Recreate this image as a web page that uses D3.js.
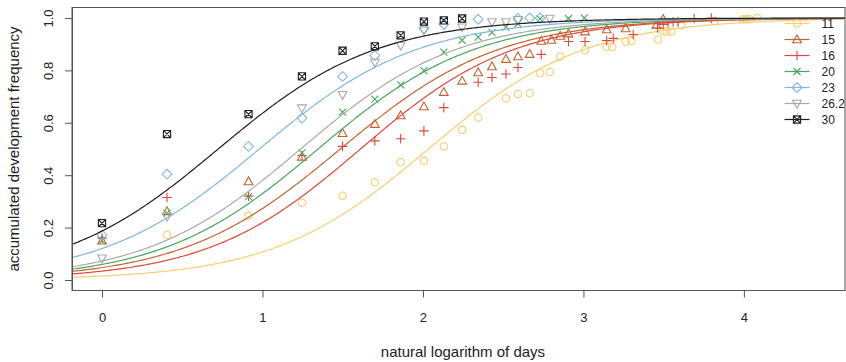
<!DOCTYPE html>
<html>
<head>
<meta charset="utf-8">
<script src="https://cdn.jsdelivr.net/npm/d3@7"></script>
<style>
  html, body { margin: 0; padding: 0; background: #fff; }
  svg { display: block; font-family: "Liberation Sans", Arial, Helvetica, sans-serif; }
</style>
</head>
<body>
<svg id="chart" width="846" height="362"></svg>
<script>
// Temperature groups (°C) shown in the legend
const groups = ["11", "15", "16", "20", "23", "26.2", "30"];
const colors = ["#F5CF73", "#C2632E", "#E0473C", "#46A85B", "#80B8DD", "#A9A9A9", "#1E1E1E"];
const shapes = ["circle", "triangleUp", "plus", "cross", "diamond", "triangleDown", "squareX"];

// Fitted logistic model: logit(p) = intercept + slope * ln(days)
const intercepts = [-4.17, -3.00, -3.35, -2.76, -1.99, -2.55, -1.47];
const slopes = [2.05, 2.02, 2.08, 2.05, 2.03, 2.06, 2.03];

// Observed accumulated development frequency, [ln(days), frequency]
const obs11 = [[0.405,0.172],[0.913,0.246],[1.246,0.295],[1.499,0.322],[1.70,0.373],[1.861,0.45],[2.006,0.455],[2.13,0.51],[2.244,0.573],[2.344,0.62],[2.517,0.694],[2.592,0.71],[2.665,0.713],[2.73,0.79],[2.79,0.794],[2.855,0.853],[3.01,0.877],[3.145,0.889],[3.18,0.889],[3.263,0.909],[3.30,0.912],[3.466,0.918],[3.497,0.948],[3.518,0.948],[3.549,0.948],[3.61,0.972],[3.818,0.988],[3.994,0.995],[4.014,0.995],[4.035,0.995],[4.083,1.0]];
const obs15 = [[0,0.15],[0.405,0.262],[0.913,0.376],[1.246,0.47],[1.499,0.56],[1.70,0.595],[1.861,0.628],[2.006,0.662],[2.13,0.717],[2.244,0.76],[2.344,0.792],[2.43,0.815],[2.517,0.843],[2.592,0.853],[2.665,0.862],[2.737,0.912],[2.80,0.916],[2.855,0.931],[2.907,0.94],[3.01,0.948],[3.145,0.956],[3.263,0.96],[3.455,0.973],[3.497,0.995]];
const obs16 = [[0,0.16],[0.405,0.315],[0.913,0.32],[1.246,0.475],[1.499,0.51],[1.70,0.531],[1.861,0.539],[2.006,0.569],[2.13,0.658],[2.344,0.755],[2.43,0.773],[2.517,0.786],[2.592,0.811],[2.737,0.861],[2.907,0.91],[3.01,0.91],[3.145,0.914],[3.186,0.922],[3.31,0.937],[3.462,0.962],[3.497,0.975],[3.528,0.982],[3.559,0.985],[3.59,0.986],[3.69,0.998],[3.797,1.0]];
const obs20 = [[0,0.15],[0.405,0.255],[0.913,0.318],[1.246,0.485],[1.499,0.641],[1.70,0.69],[1.861,0.745],[2.006,0.799],[2.13,0.87],[2.244,0.915],[2.344,0.927],[2.43,0.945],[2.517,0.965],[2.592,0.978],[2.73,0.997],[2.907,0.998],[3.006,1.0]];
const obs23 = [[0,0.172],[0.405,0.404],[0.913,0.51],[1.246,0.618],[1.499,0.777],[1.70,0.857],[2.006,0.96],[2.13,0.976],[2.344,0.995],[2.592,0.998],[2.665,1.0],[2.73,1.0]];
const obs262 = [[0,0.083],[0.405,0.242],[1.246,0.656],[1.499,0.707],[1.70,0.83],[1.861,0.895],[2.006,0.953],[2.244,0.965],[2.43,0.985],[2.517,0.985],[2.592,0.993],[2.79,0.998]];
const obs30 = [[0,0.217],[0.405,0.557],[0.913,0.633],[1.246,0.777],[1.499,0.875],[1.70,0.892],[1.861,0.934],[2.006,0.986],[2.13,0.991],[2.244,0.998]];
const observations = [obs11, obs15, obs16, obs20, obs23, obs262, obs30];

const xTicks = [0, 1, 2, 3, 4];
const yTicks = [0, 0.2, 0.4, 0.6, 0.8, 1.0];

const svg = d3.select("#chart");
const plotLeft = 72, plotRight = 845, plotTop = 7.5, plotBottom = 290.5;

const x = d3.scaleLinear().domain([-0.187, 4.63]).range([plotLeft, plotRight]);
const y = d3.scaleLinear().domain([-0.04, 1.04]).range([plotBottom, plotTop]);

// marker path generator (centered at 0,0)
function markerPath(shape) {
  const p = d3.path();
  switch (shape) {
    case "circle": {
      const r = 3.7; p.moveTo(r, 0); p.arc(0, 0, r, 0, 2 * Math.PI); break;
    }
    case "triangleUp": {
      const h = 4.6; p.moveTo(0, -h); p.lineTo(h * 0.95, h * 0.7); p.lineTo(-h * 0.95, h * 0.7); p.closePath(); break;
    }
    case "triangleDown": {
      const h = 4.6; p.moveTo(0, h); p.lineTo(h * 0.95, -h * 0.7); p.lineTo(-h * 0.95, -h * 0.7); p.closePath(); break;
    }
    case "plus": {
      const s = 4.8; p.moveTo(-s, 0); p.lineTo(s, 0); p.moveTo(0, -s); p.lineTo(0, s); break;
    }
    case "cross": {
      const s = 3.5; p.moveTo(-s, -s); p.lineTo(s, s); p.moveTo(-s, s); p.lineTo(s, -s); break;
    }
    case "diamond": {
      const s = 4.9; p.moveTo(0, -s); p.lineTo(s, 0); p.lineTo(0, s); p.lineTo(-s, 0); p.closePath(); break;
    }
    case "squareX": {
      const s = 3.6; p.rect(-s, -s, 2 * s, 2 * s);
      p.moveTo(-s, -s); p.lineTo(s, s); p.moveTo(-s, s); p.lineTo(s, -s); break;
    }
  }
  return p.toString();
}

// plot frame
svg.append("rect")
  .attr("x", plotLeft).attr("y", plotTop)
  .attr("width", plotRight - plotLeft).attr("height", plotBottom - plotTop)
  .attr("fill", "none").attr("stroke", "#555").attr("stroke-width", 1);

svg.append("clipPath").attr("id", "plotclip")
  .append("rect").attr("x", plotLeft).attr("y", plotTop)
  .attr("width", plotRight - plotLeft).attr("height", plotBottom - plotTop);

const plot = svg.append("g").attr("clip-path", "url(#plotclip)");

const xs = d3.range(-0.187, 4.64, 0.01);
const line = d3.line().x(d => x(d[0])).y(d => y(d[1]));

groups.forEach((g, i) => {
  const col = colors[i];
  // observed points
  plot.append("g").selectAll("path")
    .data(observations[i]).join("path")
    .attr("transform", d => `translate(${x(d[0])},${y(d[1])})`)
    .attr("d", markerPath(shapes[i]))
    .attr("fill", "none").attr("stroke", col).attr("stroke-width", 1.1);
  // fitted curve
  const fitted = xs.map(v => [v, 1 / (1 + Math.exp(-(intercepts[i] + slopes[i] * v)))]);
  plot.append("path").datum(fitted)
    .attr("d", line).attr("fill", "none")
    .attr("stroke", col).attr("stroke-width", 1.2);
});

// axes
const axisColor = "#555";
const xAxis = svg.append("g").attr("transform", `translate(0,${plotBottom})`)
  .call(d3.axisBottom(x).tickValues(xTicks).tickFormat(d3.format("d")).tickSize(7).tickSizeOuter(0).tickPadding(15));
xAxis.select(".domain").remove();
xAxis.selectAll("line").attr("stroke", axisColor);
xAxis.selectAll("text").attr("font-size", 13).attr("fill", "#222")
  .attr("font-family", "Liberation Sans, Arial, sans-serif");

const yAxis = svg.append("g").attr("transform", `translate(${plotLeft},0)`)
  .call(d3.axisLeft(y).tickValues(yTicks).tickFormat(d3.format(".1f")).tickSize(7).tickSizeOuter(0));
yAxis.select(".domain").attr("stroke", axisColor);
yAxis.selectAll("line").attr("stroke", axisColor);
yAxis.selectAll("text")
  .attr("font-size", 13).attr("fill", "#222")
  .attr("font-family", "Liberation Sans, Arial, sans-serif")
  .attr("x", null)
  .attr("text-anchor", "middle")
  .attr("transform", "translate(-24,0) rotate(-90)")
  .attr("dy", "0.35em");

// axis titles
svg.append("text")
  .attr("x", (x(0) + x(4)) / 2 + 40).attr("y", 357)
  .attr("text-anchor", "middle").attr("font-size", 15).attr("fill", "#222")
  .text("natural logarithm of days");

svg.append("text")
  .attr("transform", `translate(19,${(plotTop + plotBottom) / 2}) rotate(-90)`)
  .attr("text-anchor", "middle").attr("font-size", 15).attr("fill", "#222")
  .text("accumulated development frequency");

// legend
const legend = svg.append("g");
groups.forEach((g, i) => {
  const ly = 23.5 + i * 16;
  const row = legend.append("g").attr("transform", `translate(797,${ly})`);
  row.append("line").attr("x1", -12.5).attr("x2", 12.5)
    .attr("stroke", colors[i]).attr("stroke-width", 1.2);
  row.append("path").attr("d", markerPath(shapes[i]))
    .attr("fill", "none").attr("stroke", colors[i]).attr("stroke-width", 1.1);
  row.append("text").attr("x", 24.5).attr("dy", "0.35em")
    .attr("font-size", 12).attr("fill", "#222").text(g);
});
</script>
</body>
</html>
